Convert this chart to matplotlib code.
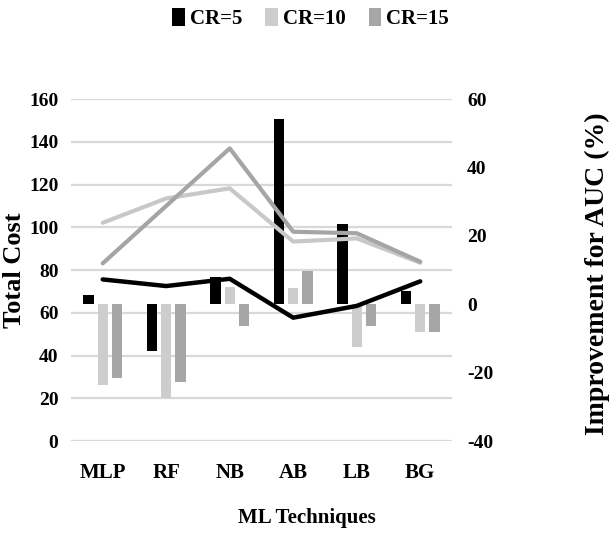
import matplotlib
matplotlib.use("Agg")
import matplotlib.pyplot as plt  # noqa: E402
import numpy as np  # noqa: E402
from matplotlib.patches import Patch  # noqa: E402

# values
TECHNIQUES = ["MLP", "RF", "NB", "AB", "LB", "BG"]
SERIES = ["CR=5", "CR=10", "CR=15"]

# total cost (left axis, lines)
COST_CR5 = [75.6, 72.5, 75.9, 57.7, 63.2, 74.7]
COST_CR10 = [102.1, 113.5, 118.2, 93.3, 94.8, 83.4]
COST_CR15 = [83.1, 110.0, 136.9, 97.9, 97.2, 83.9]

# improvement for AUC in % (right axis, bars)
AUC_CR5 = [2.6, -13.8, 8.1, 54.2, 23.4, 4.0]
AUC_CR10 = [-23.6, -27.5, 4.9, 4.8, -12.6, -8.2]
AUC_CR15 = [-21.6, -22.6, -6.5, 9.8, -6.5, -8.2]

LEFT_TICKS = [0, 20, 40, 60, 80, 100, 120, 140, 160]
RIGHT_TICKS = [-40, -20, 0, 20, 40, 60]

BAR_COLORS = ["#000000", "#cdcdcd", "#a6a6a6"]
LINE_COLORS = ["#000000", "#c8c8c8", "#a5a5a5"]

plt.rcParams["font.family"] = ["Liberation Serif", "DejaVu Serif"]
plt.rcParams["font.weight"] = "bold"
plt.rcParams["axes.unicode_minus"] = False


def clean(ax):
    for s in ax.spines.values():
        s.set_visible(False)


def main():
    fig = plt.figure(figsize=(6.14, 5.39), dpi=100)
    ax = fig.add_axes([0.1156, 0.1818, 0.6205, 0.6345])
    x = np.arange(len(TECHNIQUES))

    # base axes: left scale + grid
    ax.set_xlim(-0.5, len(TECHNIQUES) - 0.5)
    ax.set_ylim(0, 160)
    ax.set_yticks(LEFT_TICKS)
    ax.set_xticks(x)
    ax.set_xticklabels(TECHNIQUES)
    ax.yaxis.grid(True, color="#d9d9d9", lw=1.6)
    ax.set_axisbelow(True)
    ax.tick_params(axis="y", length=0, pad=9, labelsize=14)
    ax.tick_params(axis="x", length=0, pad=16, labelsize=15)
    clean(ax)
    ax.set_ylabel("Total Cost", fontsize=19, fontweight="bold", va="center", ha="center")
    ax.yaxis.set_label_coords(-0.148, 0.5)
    ax.set_xlabel("ML Techniques", fontsize=15, fontweight="bold", va="top")
    ax.xaxis.set_label_coords(0.62, -0.195)

    # bars on the right scale
    ax2 = ax.twinx()
    ax2.set_ylim(-40, 60)
    ax2.set_yticks(RIGHT_TICKS)
    ax2.tick_params(axis="y", length=0, pad=11, labelsize=14)
    clean(ax2)
    width = 0.16
    offsets = [-0.225, 0.0, 0.225]
    handles = []
    for vals, off, col, name in zip([AUC_CR5, AUC_CR10, AUC_CR15], offsets, BAR_COLORS, SERIES):
        ax2.bar(x + off, vals, width=width, color=col, zorder=2)
        handles.append(Patch(facecolor=col, label=name))
    ax2.set_ylabel("Improvement for AUC (%)", fontsize=20, fontweight="bold",
                   rotation=90, va="center", ha="center")
    ax2.yaxis.set_label_coords(1.381, 0.49)

    # lines on top, same scale as left axis
    ax3 = ax.twinx()
    ax3.set_ylim(0, 160)
    ax3.set_yticks([])
    clean(ax3)
    for vals, col, lw in zip([COST_CR10, COST_CR15, COST_CR5], LINE_COLORS[1:] + LINE_COLORS[:1], [3.0, 3.0, 3.2]):
        ax3.plot(x, vals, color=col, lw=lw, solid_capstyle="round", solid_joinstyle="round")

    fig.legend(handles=handles, loc="center", bbox_to_anchor=(0.506, 0.965), ncol=3,
               frameon=False, handlelength=0.6, handleheight=0.9, handletextpad=0.25,
               columnspacing=1.1, prop={"size": 15, "weight": "bold"})

    fig.savefig("out.png", dpi=100)


if __name__ == "__main__":
    main()
